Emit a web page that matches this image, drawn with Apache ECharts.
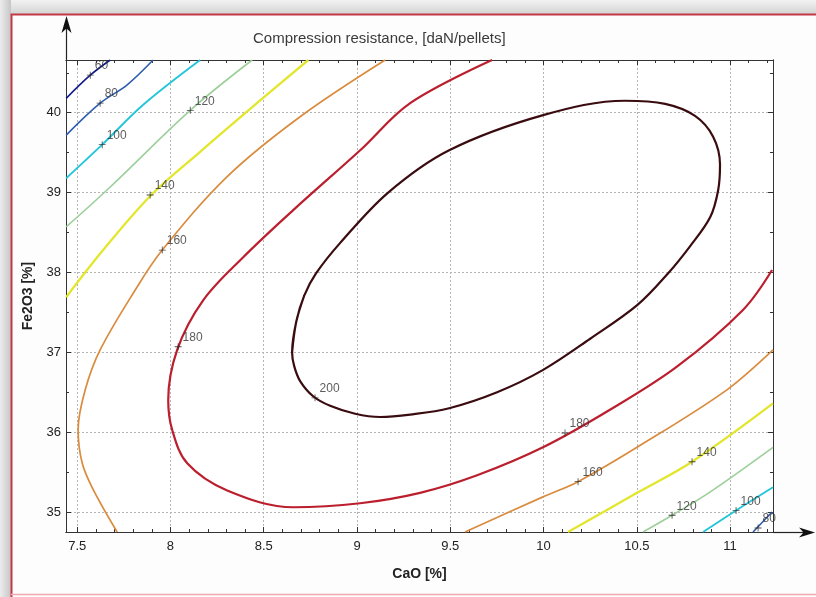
<!DOCTYPE html>
<html><head><meta charset="utf-8">
<script src="https://cdn.jsdelivr.net/npm/echarts@6/dist/echarts.min.js"></script>
<style>html,body{margin:0;padding:0;background:#fdfdfd}#c{width:816px;height:597px}</style>
</head><body><div id="c"></div>
<script>
// ---- axis ticks ----
const xMajor = [7.5, 8, 8.5, 9, 9.5, 10, 10.5, 11];
const xMinor = [7.5,7.6,7.7,7.8,7.9,8,8.1,8.2,8.3,8.4,8.5,8.6,8.7,8.8,8.9,9,9.1,9.2,9.3,9.4,9.5,9.6,9.7,9.8,9.9,10,10.1,10.2,10.3,10.4,10.5,10.6,10.7,10.8,10.9,11,11.1,11.2];
const yMajor = [35, 36, 37, 38, 39, 40];
const yMinor = [35,35.5,36,36.5,37,37.5,38,38.5,39,39.5,40,40.5];

// ---- contour lines (CaO %, Fe2O3 %) ----
const c60a = [[7.441,40.18],[7.570,40.47],[7.677,40.66]];
const c80a = [[7.441,39.72],[7.623,40.12],[7.768,40.35],[7.907,40.66]];
const c80b = [[11.123,34.75],[11.225,35.00]];
const c100a = [[7.441,39.18],[7.634,39.60],[7.854,40.10],[8.159,40.66]];
const c100b = [[10.855,34.75],[11.032,35.02],[11.23,35.31]];
const c120a = [[7.441,38.57],[7.677,39.07],[8.106,40.03],[8.438,40.66]];
const c120b = [[10.533,34.75],[10.689,34.96],[10.892,35.25],[11.23,35.81]];
const c140a = [[7.441,37.69],[7.639,38.28],[7.897,38.97],[8.159,39.51],[8.454,40.10],[8.739,40.66]];
const c140b = [[10.131,34.75],[10.501,35.24],[10.796,35.63],[11.23,36.36]];
const c160a = [[9.151,40.66],[8.695,39.95],[8.304,39.20],[7.956,38.28],[7.811,37.78],[7.623,37.03],[7.543,36.53],[7.505,36.03],[7.527,35.61],[7.586,35.28],[7.714,34.75]];
const c160b = [[9.579,34.75],[9.997,35.19],[10.185,35.38],[10.501,35.81],[10.983,36.53],[11.23,37.03]];
const c180 = [[9.724,40.66],[9.285,40.12],[9.017,39.53],[8.658,38.78],[8.390,38.19],[8.175,37.65],[8.036,37.03],[7.988,36.40],[8.009,36.03],[8.090,35.61],[8.304,35.27],[8.658,35.06],[9.017,35.11],[9.338,35.24],[9.644,35.46],[9.997,35.81],[10.356,36.28],[10.715,36.82],[11.069,37.53],[11.225,38.03]];
// closed loop; first two points repeated at the end so the join is smooth
const c200 = [[8.652,37.00],[8.674,37.38],[8.717,37.71],[8.781,37.99],[8.910,38.37],[9.167,39.00],[9.494,39.53],[9.998,39.97],[10.437,40.15],[10.652,40.11],[10.812,39.96],[10.909,39.70],[10.946,39.35],[10.936,39.03],[10.893,38.69],[10.786,38.33],[10.668,37.99],[10.502,37.59],[10.250,37.17],[9.998,36.78],[9.751,36.50],[9.494,36.30],[9.285,36.22],[9.124,36.19],[8.990,36.23],[8.856,36.33],[8.765,36.45],[8.695,36.64],[8.663,36.83],[8.652,37.00],[8.674,37.38],[8.717,37.71]];

// ---- contour labels ----
const labelPts = [[7.570,40.47],[7.623,40.12],[7.634,39.60],[8.106,40.03],[7.891,38.97],[7.956,38.28],[8.041,37.07],[8.775,36.43],[10.115,35.99],[10.185,35.38],[10.796,35.63],[10.689,34.96],[11.032,35.02],[11.150,34.80]];
const labelText = ['60','80','100','120','140','160','180','200','180','160','140','120','100','80'];

const levelColor = {60:'#101c86',80:'#2d5cae',100:'#22c6d8',120:'#9dcf9b',140:'#e2e62c',160:'#d98b3e',180:'#bb1f2e',200:'#3a0c10'};
const lines = [
  [c60a,60,1.6],[c80a,80,1.6],[c80b,80,1.6],[c100a,100,1.9],[c100b,100,1.9],
  [c120a,120,1.6],[c120b,120,1.6],[c140a,140,2.3],[c140b,140,2.3],
  [c160a,160,1.7],[c160b,160,1.7],[c180,180,2.2],[c200,200,2.2]
];

const fontTick = 'Liberation Sans Narrow, Liberation Sans, Arial, sans-serif';
const X0 = 66, Y0 = 60, X1 = 773, Y1 = 532;

const chart = echarts.init(document.getElementById('c'), null, {renderer:'canvas'});

function xAx(pos, ticks, len, labels, split) {
  return {
    type:'value', min:7.44, max:11.23, position:pos,
    axisLine:{show:true, onZero:false, lineStyle:{color:'#333', width:1}},
    axisTick:{show:true, inside:true, length:len, customValues:ticks, lineStyle:{color:'#333'}},
    axisLabel:{show:labels, customValues:ticks, margin:8, fontFamily:fontTick, fontSize:13, color:'#222',
      formatter:v=>String(v)},
    splitLine:{show:split, lineStyle:{color:'#b4b4b4', type:[2,2], width:1}},
    name: (labels ? 'CaO [%]' : ''), nameLocation:'middle', nameGap:35,
    nameTextStyle:{fontFamily:'Liberation Sans, Arial, sans-serif', fontSize:14, fontWeight:'bold', color:'#222'}
  };
}
function yAx(pos, ticks, len, labels, split) {
  return {
    type:'value', min:34.75, max:40.66, position:pos,
    axisLine:{show:true, onZero:false, lineStyle:{color:'#333', width:1}},
    axisTick:{show:true, inside:true, length:len, customValues:ticks, lineStyle:{color:'#333'}},
    axisLabel:{show:labels, customValues:ticks, margin:5, fontFamily:fontTick, fontSize:13, color:'#222',
      formatter:v=>String(v)},
    splitLine:{show:split, lineStyle:{color:'#b4b4b4', type:[2,2], width:1}},
    name: (labels ? 'Fe2O3 [%]' : ''), nameLocation:'middle', nameGap:31, nameRotate:90,
    nameTextStyle:{fontFamily:'Liberation Sans, Arial, sans-serif', fontSize:14, fontWeight:'bold', color:'#222'}
  };
}

const series = lines.map(([d,lev,w]) => ({
  type:'line', xAxisIndex:0, yAxisIndex:0, data:d, smooth:0.35, showSymbol:false, symbol:'none',
  lineStyle:{color:levelColor[lev], width:w}, silent:true, clip:true, z:3
}));
series.push({
  type:'scatter', xAxisIndex:0, yAxisIndex:0, z:5,
  data: labelPts,
  symbol:'path://M4.4,0h1.2v10h-1.2zM0,4.4h10v1.2h-10z', symbolSize:7,
  itemStyle:{color:'#222'},
  label:{show:true, position:'right', distance:2, offset:[-1,-9], formatter:p=>labelText[p.dataIndex],
    fontFamily:fontTick, fontSize:12, color:'#333'}
});

chart.setOption({
  backgroundColor:'#fdfdfd',
  animation:false,
  title:{text:'Compression resistance, [daN/pellets]', left:253, top:31, padding:0,
    textStyle:{fontFamily:'Liberation Sans, Arial, sans-serif', fontSize:15, fontWeight:'normal', color:'#3a3a3a'}},
  grid:{left:X0, top:Y0, right:816-X1, bottom:597-Y1, show:true, backgroundColor:'#ffffff', borderWidth:0, containLabel:false},
  xAxis:[ xAx('bottom', xMajor, 5, true, true), xAx('bottom', xMinor, 3, false, false),
          xAx('top', xMajor, 5, false, false), xAx('top', xMinor, 3, false, false) ],
  yAxis:[ yAx('left', yMajor, 5, true, true), yAx('left', yMinor, 3, false, false),
          yAx('right', yMajor, 5, false, false), yAx('right', yMinor, 3, false, false) ],
  series: series,
  graphic:[
    {type:'rect', shape:{x:0,y:0,width:816,height:14}, silent:true,
      style:{fill:new echarts.graphic.LinearGradient(0,0,0,1,[{offset:0,color:'#f2f2f2'},{offset:1,color:'#d4d4d4'}])}},
    {type:'rect', shape:{x:0,y:0,width:11,height:597}, silent:true,
      style:{fill:new echarts.graphic.LinearGradient(0,0,1,0,[{offset:0,color:'#ececec'},{offset:1,color:'#c6c6c6'}])}},
    {type:'polyline', shape:{points:[[11.5,597],[11.5,14.5],[816,14.5]]}, silent:true,
      style:{stroke:'#c23a46', lineWidth:2, fill:null}},
    {type:'line', shape:{x1:11,y1:594.5,x2:816,y2:594.5}, silent:true, style:{stroke:'#f3a7ae', lineWidth:1.5}},
    // axis arrows
    {type:'line', shape:{x1:66.5,y1:60,x2:66.5,y2:28}, silent:true, style:{stroke:'#222', lineWidth:1.2}},
    {type:'polygon', shape:{points:[[66.5,16],[61.5,33],[66.5,28.5],[71.5,33]]}, silent:true, style:{fill:'#111'}},
    {type:'line', shape:{x1:773,y1:532.5,x2:804,y2:532.5}, silent:true, style:{stroke:'#222', lineWidth:1.2}},
    {type:'polygon', shape:{points:[[815,532.5],[799,527.5],[803.5,532.5],[799,537.5]]}, silent:true, style:{fill:'#111'}}
  ]
});
</script></body></html>
